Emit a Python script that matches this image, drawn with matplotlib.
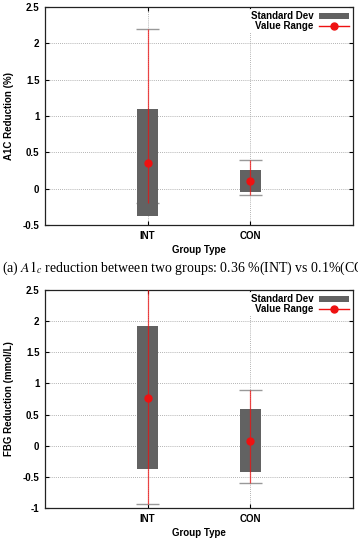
import numpy as np
import matplotlib.pyplot as plt
from matplotlib.lines import Line2D
from matplotlib.patches import Patch

plt.rcParams['font.family'] = ['Liberation Sans', 'DejaVu Sans']
plt.rcParams['mathtext.fontset'] = 'stix'

groups = ['INT', 'CON']

# A1C reduction (%)
a1c_mean = [0.36, 0.10]
a1c_sd_low = [-0.37, -0.05]
a1c_sd_high = [1.09, 0.26]
a1c_min = [-0.20, -0.09]
a1c_max = [2.20, 0.40]

# FBG reduction (mmol/L)
fbg_mean = [0.76, 0.08]
fbg_sd_low = [-0.38, -0.42]
fbg_sd_high = [1.92, 0.59]
fbg_min = [-0.93, -0.60]
fbg_max = [2.75, 0.90]

box_grey = '#626262'
red = '#ee1111'
W, H = 358, 539


def panel(ax, mean, lo, hi, vmin, vmax, ylabel, yticks):
    x = np.arange(1, len(groups) + 1)
    ax.set_xlim(0, 3)
    ax.set_ylim(yticks[0], yticks[-1])
    ax.grid(True, color='#9a9a9a', linestyle=(0, (1, 1.5)), linewidth=0.6)
    ax.set_axisbelow(True)
    ax.bar(x, np.array(hi) - np.array(lo), bottom=lo, width=0.21,
           color=box_grey, zorder=2)
    ax.vlines(x, vmin, vmax, color=red, linewidth=0.9, alpha=0.75, zorder=3)
    for xi, a, b in zip(x, vmin, vmax):
        ax.hlines([a, b], xi - 0.11, xi + 0.11, color='#999999',
                  linewidth=1.0, zorder=1.9)
    ax.plot(x, mean, 'o', color=red, markersize=5, zorder=4)
    ax.set_xticks(x)
    ax.set_xticklabels(groups, fontweight='bold')
    ax.set_yticks(yticks)
    ax.set_yticklabels(['%g' % t for t in yticks], fontweight='bold')
    ax.tick_params(direction='in', length=3, width=0.8, labelsize=7,
                   top=True, right=True, pad=4)
    for s in ax.spines.values():
        s.set_linewidth(0.9)
        s.set_color('#222222')
    ax.set_ylabel(ylabel, fontsize=7, fontweight='bold', labelpad=6)
    ax.set_xlabel('Group Type', fontsize=7, fontweight='bold', labelpad=3)
    handles = [Patch(facecolor=box_grey, edgecolor='none'),
               Line2D([0], [0], color=red, marker='o', markersize=5,
                      linewidth=1)]
    leg = ax.legend(handles, ['Standard Dev', 'Value Range'], loc='upper right',
                    markerfirst=False, frameon=True,
                    prop={'size': 7, 'weight': 'bold'},
                    handlelength=3.0, handleheight=0.5, handletextpad=0.6,
                    labelspacing=0.0, borderpad=0.2, borderaxespad=0.25)
    leg.get_frame().set_edgecolor('none')
    leg.get_frame().set_facecolor('white')
    leg.get_frame().set_alpha(1)


fig = plt.figure(figsize=(W / 100, H / 100), dpi=100)

ax1 = fig.add_axes([45 / W, 1 - 225 / H, 308 / W, 218 / H])
panel(ax1, a1c_mean, a1c_sd_low, a1c_sd_high, a1c_min, a1c_max,
      'A1C Reduction (%)', [-0.5, 0, 0.5, 1, 1.5, 2, 2.5])

ax2 = fig.add_axes([45 / W, 1 - 508 / H, 308 / W, 218 / H])
panel(ax2, fbg_mean, fbg_sd_low, fbg_sd_high, fbg_min, fbg_max,
      'FBG Reduction (mmol/L)', [-1, -0.5, 0, 0.5, 1, 1.5, 2, 2.5])

fig.text(0.006, 1 - 268 / H,
         r'(a) $A1_c$ reduction between two groups: 0.36 %(INT) vs 0.1%(CON)',
         fontsize=10, fontweight='normal', family='Liberation Serif',
         va='center', ha='left')

fig.savefig('out.png', dpi=100)
